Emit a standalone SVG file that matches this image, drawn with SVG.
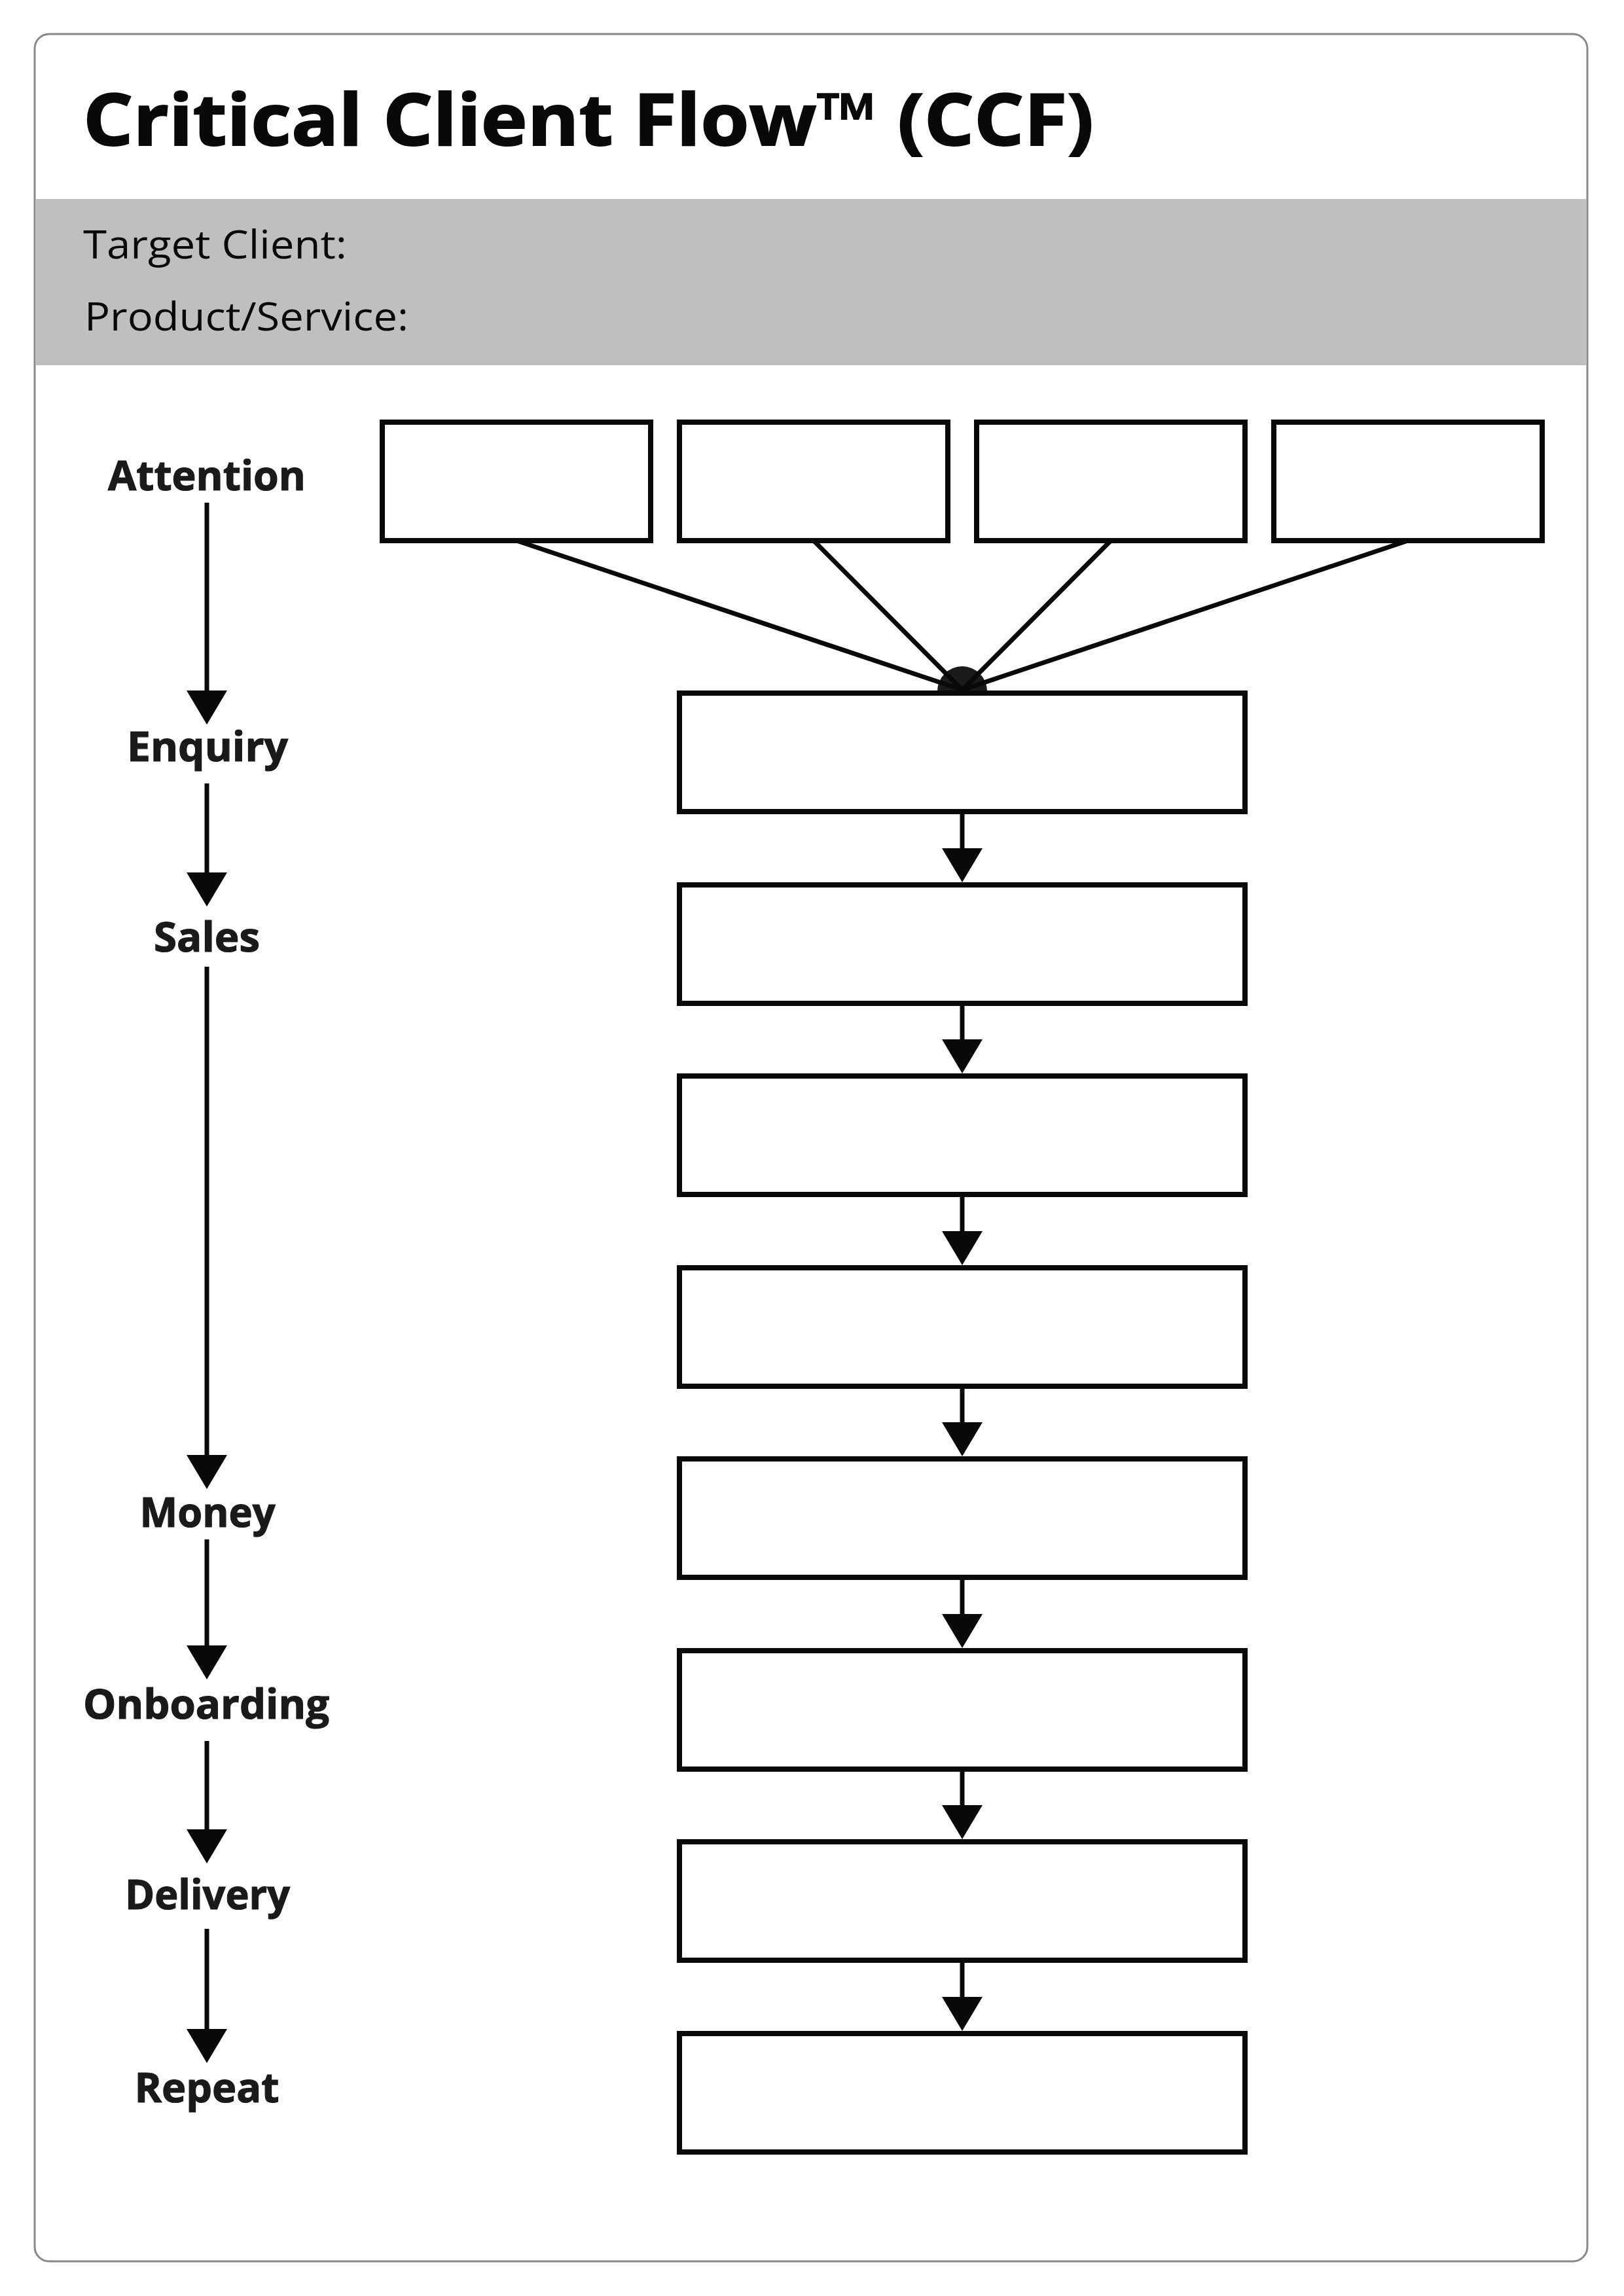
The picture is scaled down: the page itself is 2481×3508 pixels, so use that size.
<svg xmlns="http://www.w3.org/2000/svg" width="2481" height="3508" viewBox="0 0 2481 3508">
  <style>
    .frame { fill: #ffffff; stroke: #888888; stroke-width: 3; }
    .band { fill: #bfbfbf; }
    .title { font-family: "Open Sans", "Liberation Sans", sans-serif; font-weight: 700; font-size: 110px; fill: #08090a; stroke: #08090a; stroke-width: 2; }
    .field { font-family: "Open Sans", "Liberation Sans", sans-serif; font-weight: 400; font-size: 60px; fill: #08090a; }
    .stage { font-family: "Open Sans", "Liberation Sans", sans-serif; font-weight: 700; font-size: 62px; fill: #1a1a1a; stroke: #1a1a1a; stroke-width: 1.2; text-anchor: middle; }
    .box { fill: #ffffff; stroke: #08090a; stroke-width: 8; }
    .arrow { fill: none; stroke: #08090a; stroke-width: 7; marker-end: url(#head); }
    .feed { fill: none; stroke: #08090a; stroke-width: 7; }
    .hub { fill: #1a1a1a; }
  </style>
  <defs>
    <marker id="head" markerUnits="userSpaceOnUse" markerWidth="56" markerHeight="64" refX="32" refY="31" orient="auto">
      <path d="M0,0 L52,31 L0,62 Z" fill="#08090a"/>
    </marker>
  </defs>

  <rect class="frame" x="53" y="52" width="2372" height="3403" rx="22" ry="22"/>
  <rect class="band" x="55" y="304" width="2368" height="254"/>

  <g id="header">
    <text class="title" x="127" y="222" textLength="1544" lengthAdjust="spacingAndGlyphs">Critical Client Flow™ (CCF)</text>
    <text class="field" x="127" y="395" textLength="403" lengthAdjust="spacingAndGlyphs">Target Client:</text>
    <text class="field" x="129" y="505" textLength="495" lengthAdjust="spacingAndGlyphs">Product/Service:</text>
  </g>

  <g id="connectors">
    <path class="arrow" d="M316,768 V1087"/>
    <path class="arrow" d="M316,1197 V1365"/>
    <path class="arrow" d="M316,1477 V2255"/>
    <path class="arrow" d="M316,2352 V2546"/>
    <path class="arrow" d="M316,2660 V2827"/>
    <path class="arrow" d="M316,2947 V3132"/>
    <path class="hub" d="M1432,1056 A38,38 0 0 1 1508,1056 Z"/>
    <path class="feed" d="M789,826 L1470,1054"/>
    <path class="feed" d="M1243,826 L1470,1054"/>
    <path class="feed" d="M1697,826 L1470,1054"/>
    <path class="feed" d="M2151,826 L1470,1054"/>
    <path class="arrow" d="M1470,1240 V1328"/>
    <path class="arrow" d="M1470,1533 V1620"/>
    <path class="arrow" d="M1470,1825 V1913"/>
    <path class="arrow" d="M1470,2118 V2205"/>
    <path class="arrow" d="M1470,2410 V2498"/>
    <path class="arrow" d="M1470,2703 V2790"/>
    <path class="arrow" d="M1470,2995 V3083"/>
  </g>

  <g id="label-attention"><text class="stage" x="316" y="749" textLength="302" lengthAdjust="spacingAndGlyphs">Attention</text></g>
  <g id="label-enquiry"><text class="stage" x="317" y="1163" textLength="246" lengthAdjust="spacingAndGlyphs">Enquiry</text></g>
  <g id="label-sales"><text class="stage" x="316" y="1454" textLength="162" lengthAdjust="spacingAndGlyphs">Sales</text></g>
  <g id="label-money"><text class="stage" x="317" y="2333" textLength="207" lengthAdjust="spacingAndGlyphs">Money</text></g>
  <g id="label-onboarding"><text class="stage" x="315" y="2626" textLength="376" lengthAdjust="spacingAndGlyphs">Onboarding</text></g>
  <g id="label-delivery"><text class="stage" x="317" y="2917" textLength="252" lengthAdjust="spacingAndGlyphs">Delivery</text></g>
  <g id="label-repeat"><text class="stage" x="316" y="3212" textLength="221" lengthAdjust="spacingAndGlyphs">Repeat</text></g>

  <g id="attention-1"><rect class="box" x="584" y="645" width="410" height="181"/></g>
  <g id="attention-2"><rect class="box" x="1038" y="645" width="410" height="181"/></g>
  <g id="attention-3"><rect class="box" x="1492" y="645" width="410" height="181"/></g>
  <g id="attention-4"><rect class="box" x="1946" y="645" width="410" height="181"/></g>

  <g id="step-1"><rect class="box" x="1038" y="1059" width="864" height="181"/></g>
  <g id="step-2"><rect class="box" x="1038" y="1352" width="864" height="181"/></g>
  <g id="step-3"><rect class="box" x="1038" y="1644" width="864" height="181"/></g>
  <g id="step-4"><rect class="box" x="1038" y="1937" width="864" height="181"/></g>
  <g id="step-5"><rect class="box" x="1038" y="2229" width="864" height="181"/></g>
  <g id="step-6"><rect class="box" x="1038" y="2522" width="864" height="181"/></g>
  <g id="step-7"><rect class="box" x="1038" y="2814" width="864" height="181"/></g>
  <g id="step-8"><rect class="box" x="1038" y="3107" width="864" height="181"/></g>
</svg>
